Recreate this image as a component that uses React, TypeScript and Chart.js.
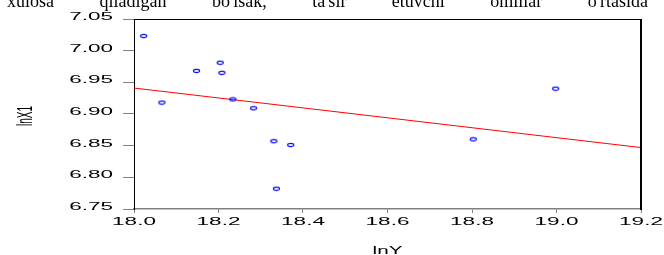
import React, { useEffect, useRef } from "react";
import { Chart, registerables } from "chart.js";

Chart.register(...registerables);

// ---- data ----
const headerWords = ["xulosa", "qiladigan", "bo'lsak,", "ta'sir", "etuvchi", "omillar", "o'rtasida"];
const lnY = [18.023, 18.066, 18.148, 18.204, 18.208, 18.234, 18.283, 18.331, 18.371, 18.337, 18.803, 18.998];
const lnX1 = [7.023, 6.918, 6.968, 6.981, 6.965, 6.923, 6.909, 6.857, 6.851, 6.782, 6.86, 6.94];
const fitX = [18.0, 19.2];
const fitY = [6.941, 6.847];
const xAxisTitle = "lnY";
const yAxisTitle = "lnX1";
const xRange = [18.0, 19.2];
const xStep = 0.2;
const yRange = [6.75, 7.05];
const yStep = 0.05;

const SX = 2.25;
const FONT = '10px "Liberation Sans"';

const stretchText = {
  id: "stretchText",
  afterDraw(chart: any) {
    const ctx = chart.ctx as CanvasRenderingContext2D;
    const { left, right, top, bottom } = chart.chartArea;
    ctx.save();
    // frame (top + right)
    ctx.strokeStyle = "#000";
    ctx.lineWidth = 1;
    ctx.beginPath();
    ctx.moveTo(left, top + 0.5);
    ctx.lineTo(right, top + 0.5);
    ctx.stroke();
    ctx.lineWidth = 2;
    ctx.beginPath();
    ctx.moveTo(right, top);
    ctx.lineTo(right, bottom + 1);
    ctx.stroke();

    ctx.fillStyle = "#000";
    ctx.font = FONT;
    ctx.textBaseline = "alphabetic";
    const ys = chart.scales.y;
    ys.ticks.forEach((t: any) => {
      const py = ys.getPixelForValue(t.value);
      ctx.save();
      ctx.translate(left - 21, py + 1);
      ctx.scale(SX, 1);
      ctx.textAlign = "right";
      ctx.fillText(Number(t.value).toFixed(2), 0, 0);
      ctx.restore();
    });
    const xs = chart.scales.x;
    xs.ticks.forEach((t: any) => {
      const px = xs.getPixelForValue(t.value);
      ctx.save();
      ctx.translate(px, bottom + 16);
      ctx.scale(SX, 1);
      ctx.textAlign = "center";
      ctx.fillText(Number(t.value).toFixed(1), 0, 0);
      ctx.restore();
    });
    // axis titles
    ctx.save();
    ctx.translate((left + right) / 2, bottom + 45);
    ctx.scale(SX * 0.92, 1);
    ctx.textAlign = "center";
    ctx.fillText(xAxisTitle, 0, 0);
    ctx.restore();

    ctx.save();
    ctx.translate(32, (top + bottom) / 2 + 2);
    ctx.scale(SX, 1);
    ctx.rotate(-Math.PI / 2);
    ctx.textAlign = "center";
    ctx.fillText(yAxisTitle, 0, 0);
    ctx.restore();

    ctx.restore();
  },
};

export default function App() {
  const ref = useRef<HTMLCanvasElement | null>(null);

  useEffect(() => {
    if (!ref.current) return;
    const marker = document.createElement("canvas");
    marker.width = 9;
    marker.height = 6;
    const mc = marker.getContext("2d")!;
    mc.strokeStyle = "#0000ff";
    mc.lineWidth = 1.1;
    mc.beginPath();
    mc.ellipse(4.5, 3, 3.1, 1.6, 0, 0, Math.PI * 2);
    mc.stroke();

    const chart = new Chart(ref.current, {
      type: "scatter",
      data: {
        datasets: [
          {
            data: lnY.map((x, i) => ({ x, y: lnX1[i] })),
            pointStyle: marker as any,
            pointRadius: 3,
            showLine: false,
          },
          {
            data: fitX.map((x, i) => ({ x, y: fitY[i] })),
            showLine: true,
            borderColor: "#ff0000",
            borderWidth: 1,
            pointRadius: 0,
          },
        ],
      },
      options: {
        animation: false,
        responsive: false,
        devicePixelRatio: 1,
        layout: { padding: { left: 123, right: 23, top: 19, bottom: 42 } },
        plugins: { legend: { display: false }, tooltip: { enabled: false } },
        scales: {
          x: {
            type: "linear",
            min: xRange[0],
            max: xRange[1],
            ticks: { stepSize: xStep, display: false },
            grid: { drawOnChartArea: false, drawTicks: true, tickLength: 4, color: "#808080" },
            border: { display: true, color: "#808080", width: 1.5 },
          },
          y: {
            type: "linear",
            min: yRange[0],
            max: yRange[1],
            ticks: { stepSize: yStep, display: false },
            grid: { drawOnChartArea: false, drawTicks: true, tickLength: 11, color: "#808080" },
            border: { display: true, color: "#000", width: 1 },
          },
        },
      },
      plugins: [stretchText],
    });
    return () => chart.destroy();
  }, []);

  return (
    <div style={{ position: "absolute", left: 0, top: 0, width: 664, height: 255, background: "#fff", overflow: "hidden" }}>
      <canvas ref={ref} width={664} height={255} style={{ display: "block" }} />
      <div
        style={{
          position: "absolute",
          top: -8,
          left: 7,
          right: 16,
          display: "flex",
          justifyContent: "space-between",
          fontFamily: '"Liberation Serif", serif',
          fontSize: 18,
          lineHeight: "18px",
          color: "#000",
          whiteSpace: "nowrap",
        }}
      >
        {headerWords.map((w, i) => (
          <span key={i}>{w}</span>
        ))}
      </div>
    </div>
  );
}
